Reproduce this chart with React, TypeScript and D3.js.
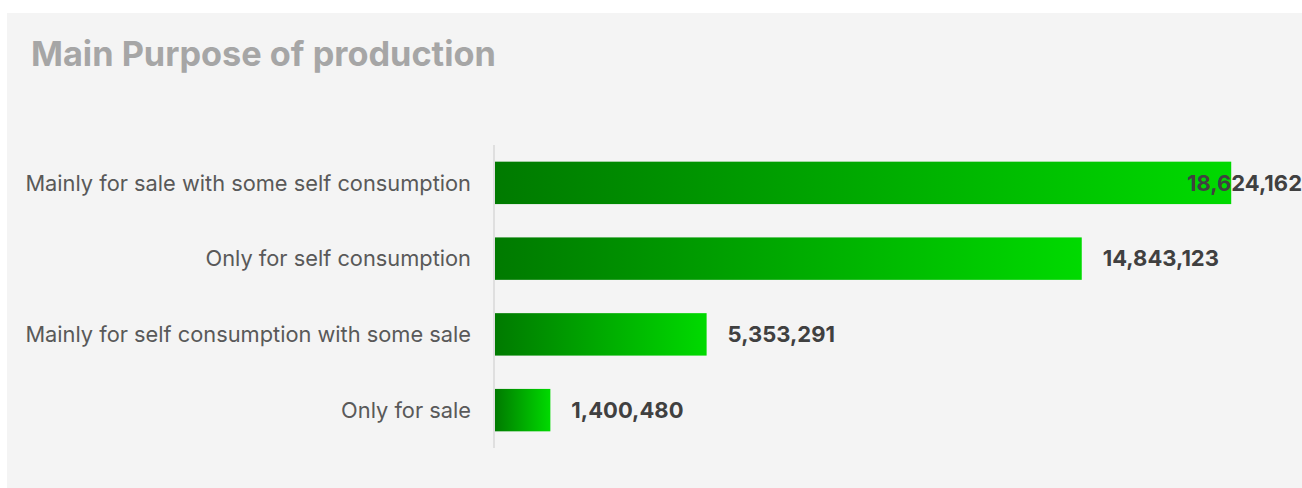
import React from "react";
import * as d3 from "d3";

const categories = [
  "Mainly for sale with some self consumption",
  "Only for self consumption",
  "Mainly for self consumption with some sale",
  "Only for sale",
];
const values = [18624162, 14843123, 5353291, 1400480];
const title = "Main Purpose of production";

const W = 1302;
const H = 488;
const FONT = "Inter, 'Open Sans', sans-serif";

export default function App() {
  const x = d3.scaleLinear().domain([0, 20000000]).range([495, 1285.6]);
  const y = d3.scaleBand<string>().domain(categories).range([145, 448]).paddingInner(0.44).paddingOuter(0.22);
  const fmt = d3.format(",");
  const panelRight = 1302;
  const approxW = (s: string) => s.length * 11.6;
  return (
    <svg width={W} height={H} style={{ position: "absolute", left: 0, top: 0 }}>
      <defs>
        <linearGradient id="barGrad" x1="0" y1="0" x2="1" y2="0">
          <stop offset="0" stopColor="#007a00" />
          <stop offset="1" stopColor="#00da00" />
        </linearGradient>
      </defs>
      <rect x={0} y={0} width={W} height={H} fill="#ffffff" />
      <rect x={7} y={13} width={W - 7} height={H - 13} fill="#f4f4f4" />
      <text x={31} y={66} fontFamily={FONT} fontWeight={700} fontSize={34.3} fill="#a6a6a6">
        {title}
      </text>
      {categories.map((c, i) => {
        const y0 = y(c)!;
        const bw = y.bandwidth();
        const xe = x(values[i]);
        const label = fmt(values[i]);
        const fits = xe + 21 + approxW(label) <= panelRight;
        return (
          <g key={c}>
            <rect x={x(0)} y={y0} width={xe - x(0)} height={bw} fill="url(#barGrad)" />
            <text
              x={471}
              y={y0 + bw / 2}
              dy="0.35em"
              textAnchor="end"
              fontFamily={FONT}
              fontSize={21.8}
              fill="#595959"
            >
              {c}
            </text>
            <text
              x={fits ? xe + 21 : panelRight}
              y={y0 + bw / 2}
              dy="0.35em"
              textAnchor={fits ? "start" : "end"}
              fontFamily={FONT}
              fontWeight={700}
              fontSize={22}
              fill="#404040"
            >
              {label}
            </text>
          </g>
        );
      })}
      <line x1={494} x2={494} y1={145} y2={448} stroke="#d9d9d9" strokeWidth={1.5} />
    </svg>
  );
}
